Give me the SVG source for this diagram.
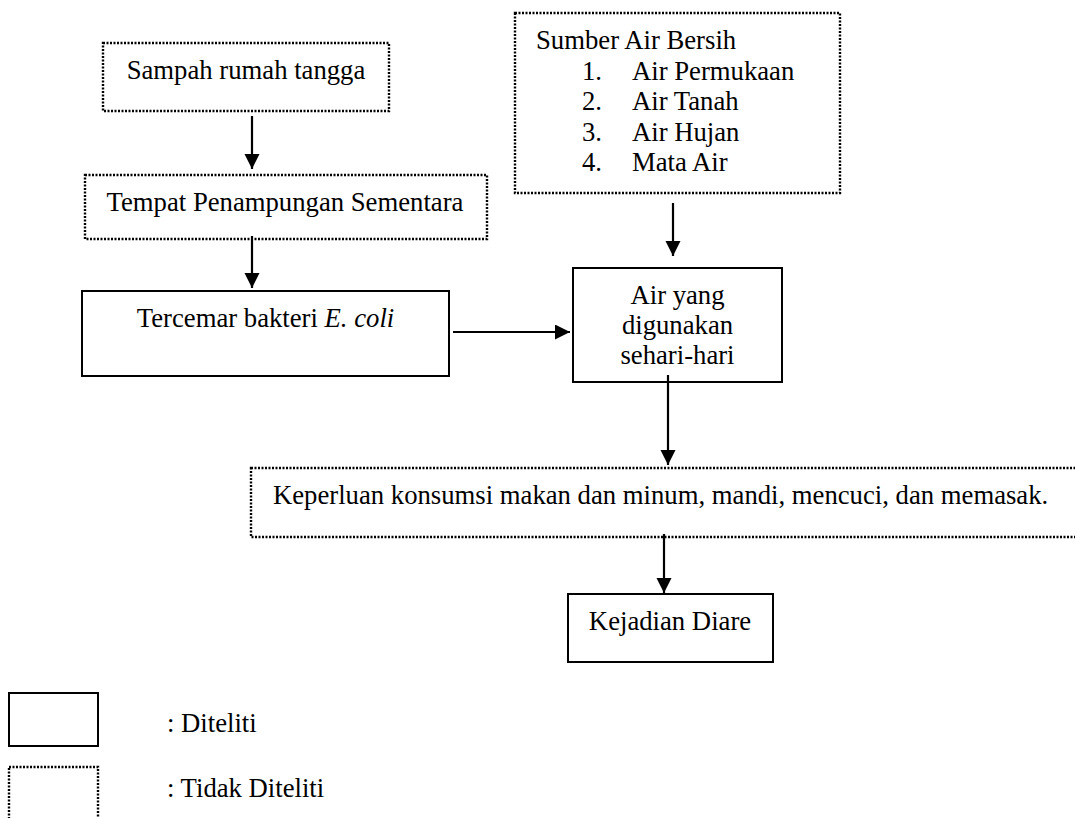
<svg xmlns="http://www.w3.org/2000/svg" width="1075" height="818" viewBox="0 0 1075 818">
<style>
.solid{fill:#fff;stroke:#000;stroke-width:2}
.dot{fill:#fff;stroke:#000;stroke-width:2.4;stroke-dasharray:2 1.5}
.t{font-family:"Liberation Serif","Times New Roman",serif;font-size:26.7px;fill:#000}
.c{text-anchor:middle}
.conn{stroke:#000;stroke-width:2.2;fill:none;marker-end:url(#ah)}
</style>
<defs>
<marker id="ah" markerUnits="userSpaceOnUse" markerWidth="16" markerHeight="16" refX="15" refY="7.5" orient="auto">
<path d="M0,0 L15,7.5 L0,15 z" fill="#000"/>
</marker>
</defs>
<rect width="1075" height="818" fill="#fff"/>
<g id="sampah">
<rect class="dot" x="103" y="43" width="286" height="68"/>
<text class="t c" x="246" y="79">Sampah rumah tangga</text>
</g>
<g id="tps">
<rect class="dot" x="85" y="175" width="402" height="64"/>
<text class="t c" x="285" y="211">Tempat Penampungan Sementara</text>
</g>
<g id="tercemar">
<rect class="solid" x="82" y="291" width="367" height="85"/>
<text class="t c" x="265.5" y="327">Tercemar bakteri <tspan font-style="italic">E. coli</tspan></text>
</g>
<g id="sumber">
<rect class="dot" x="515" y="13" width="325" height="180"/>
<text class="t" x="536" y="49">Sumber Air Bersih</text>
<text class="t" x="582" y="79.5">1.</text><text class="t" x="632" y="79.5">Air Permukaan</text>
<text class="t" x="582" y="110">2.</text><text class="t" x="632" y="110">Air Tanah</text>
<text class="t" x="582" y="140.5">3.</text><text class="t" x="632" y="140.5">Air Hujan</text>
<text class="t" x="582" y="171">4.</text><text class="t" x="632" y="171">Mata Air</text>
</g>
<g id="air">
<rect class="solid" x="573" y="268" width="209" height="114"/>
<text class="t c" x="677.5" y="304">Air yang</text>
<text class="t c" x="677.5" y="334">digunakan</text>
<text class="t c" x="677.5" y="364">sehari-hari</text>
</g>
<g id="keperluan">
<rect class="dot" x="251" y="468" width="840" height="69"/>
<text class="t" x="273" y="504">Keperluan konsumsi makan dan minum, mandi, mencuci, dan memasak.</text>
</g>
<g id="kejadian">
<rect class="solid" x="568" y="594" width="205" height="68"/>
<text class="t c" x="670" y="630">Kejadian Diare</text>
</g>
<g id="connectors">
<line class="conn" x1="252" y1="116" x2="252" y2="169"/>
<line class="conn" x1="252" y1="236" x2="252" y2="288"/>
<line class="conn" x1="673" y1="203" x2="673" y2="256"/>
<line class="conn" x1="453" y1="332" x2="570" y2="332"/>
<line class="conn" x1="668" y1="375" x2="668" y2="465"/>
<line class="conn" x1="664" y1="534" x2="664" y2="593"/>
</g>
<g id="legend">
<rect class="solid" x="9" y="693" width="89" height="53"/>
<text class="t" x="167" y="732">: Diteliti</text>
<rect class="dot" x="9" y="767" width="89" height="70"/>
<text class="t" x="167" y="797">: Tidak Diteliti</text>
</g>
</svg>
